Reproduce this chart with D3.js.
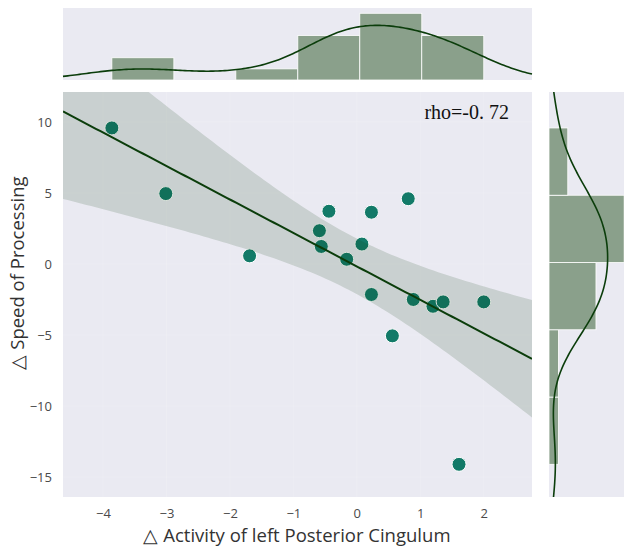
<!DOCTYPE html>
<html>
<head>
<meta charset="utf-8">
<script src="https://cdn.jsdelivr.net/npm/d3@7"></script>
<style>
  body { margin: 0; background: #fff; }
  svg { display: block; }
</style>
</head>
<body>
<svg id="chart" width="624" height="546"></svg>
<script>
// change in activity (x) and change in speed of processing (y), one per subject
var activity = [-3.86, -3.01, -1.69, -0.44, 0.23, 0.81, -0.59, -0.56, -0.16, 0.08,
                0.23, 0.89, 1.20, 1.36, 2.00, 0.56, 1.61];
var speed    = [9.57, 4.95, 0.57, 3.71, 3.64, 4.59, 2.34, 1.23, 0.33, 1.40,
                -2.15, -2.50, -2.98, -2.67, -2.67, -5.06, -14.10];
var xTicks = [-4, -3, -2, -1, 0, 1, 2];
var yTicks = [-15, -10, -5, 0, 5, 10];
var xBins = 6, yBins = 5;
var rhoLabel = "rho=-0. 72";
var xLabel = "\u25B3 Activity of left Posterior Cingulum";
var yLabel = "\u25B3 Speed of Processing";

var svg = d3.select('#chart');
var bg = '#eaeaf2', lineColor = '#0b3d0b', dotColor = '#127a68', barColor = '#8aa08b';

// main panel
var plot = {left: 63, right: 532, top: 92, bottom: 497};
var x = d3.scaleLinear().domain([-4.63, 2.76]).range([plot.left, plot.right]);
var y = d3.scaleLinear().domain([-16.4, 12.1]).range([plot.bottom, plot.top]);

var pts = activity.map(function(d, i) { return {x: d, y: speed[i]}; });
var n = pts.length;

svg.append('defs').append('clipPath').attr('id', 'clipMain')
    .append('rect').attr('x', plot.left).attr('y', plot.top)
    .attr('width', plot.right - plot.left).attr('height', plot.bottom - plot.top);

svg.append('rect').attr('x', plot.left).attr('y', plot.top)
    .attr('width', plot.right - plot.left).attr('height', plot.bottom - plot.top)
    .attr('fill', bg);

// faint grid, as in seaborn darkgrid
var grid = svg.append('g').attr('stroke', '#fff').attr('stroke-opacity', 0.15);
grid.selectAll('.gx').data(xTicks).enter().append('line')
    .attr('x1', function(d) { return x(d); }).attr('x2', function(d) { return x(d); })
    .attr('y1', plot.top).attr('y2', plot.bottom);
grid.selectAll('.gy').data(yTicks).enter().append('line')
    .attr('y1', function(d) { return y(d); }).attr('y2', function(d) { return y(d); })
    .attr('x1', plot.left).attr('x2', plot.right);

var main = svg.append('g').attr('clip-path', 'url(#clipMain)');

main.selectAll('circle').data(pts).enter().append('circle')
    .attr('cx', function(d) { return x(d.x); })
    .attr('cy', function(d) { return y(d.y); })
    .attr('r', 7)
    .attr('fill', dotColor)
    .attr('stroke', '#fff')
    .attr('stroke-width', 1);

// least squares fit with 95% confidence band
var mx = d3.mean(activity), my = d3.mean(speed);
var sxx = d3.sum(activity, function(d) { return (d - mx) * (d - mx); });
var sxy = d3.sum(pts, function(d) { return (d.x - mx) * (d.y - my); });
var slope = sxy / sxx, icept = my - slope * mx;
var sse = d3.sum(pts, function(d) { var r = d.y - (icept + slope * d.x); return r * r; });
var s = Math.sqrt(sse / (n - 2));
var tval = 2.131;
var gridX = d3.range(0, 101).map(function(i) { return x.domain()[0] + i * (x.domain()[1] - x.domain()[0]) / 100; });
var band = gridX.map(function(g) {
    var yh = icept + slope * g;
    var se = s * Math.sqrt(1 / n + (g - mx) * (g - mx) / sxx);
    return {x: g, y: yh, lo: yh - tval * se, hi: yh + tval * se};
});

main.append('path').datum(band)
    .attr('d', d3.area().x(function(d) { return x(d.x); })
        .y0(function(d) { return y(d.lo); }).y1(function(d) { return y(d.hi); }))
    .attr('fill', lineColor).attr('fill-opacity', 0.15);

main.append('path').datum(band)
    .attr('d', d3.line().x(function(d) { return x(d.x); }).y(function(d) { return y(d.y); }))
    .attr('fill', 'none').attr('stroke', lineColor).attr('stroke-width', 2);

// axes
var xAxis = svg.append('g').attr('transform', 'translate(0,' + plot.bottom + ')')
    .call(d3.axisBottom(x).tickValues(xTicks).tickSize(0).tickPadding(12));
var yAxis = svg.append('g').attr('transform', 'translate(' + plot.left + ',0)')
    .call(d3.axisLeft(y).tickValues(yTicks).tickSize(0).tickPadding(11));
[xAxis, yAxis].forEach(function(a) {
    a.select('.domain').remove();
    a.selectAll('text').attr('fill', '#4a4a4a').style('font-family', 'Open Sans').style('font-size', '13px');
});

svg.append('text').text(xLabel)
    .attr('x', 297).attr('y', 542).attr('text-anchor', 'middle')
    .style('font-family', 'Open Sans').style('font-size', '18.5px').attr('fill', '#333');
svg.append('text').text(yLabel)
    .attr('transform', 'translate(24,' + 273 + ') rotate(-90)').attr('text-anchor', 'middle')
    .style('font-family', 'Open Sans').style('font-size', '18.5px').attr('fill', '#333');

svg.append('text').text(rhoLabel)
    .attr('x', 509).attr('y', 119).attr('text-anchor', 'end')
    .style('font-family', 'Liberation Serif').style('font-size', '20px').attr('fill', '#111');

// gaussian kde, scott bandwidth the statsmodels way (robust spread)
function kde(values, grid) {
    var sorted = values.slice().sort(d3.ascending);
    var iqr = d3.quantileSorted(sorted, 0.75) - d3.quantileSorted(sorted, 0.25);
    var spread = Math.min(d3.deviation(values), iqr / 1.349);
    var bw = 1.059 * spread * Math.pow(values.length, -0.2);
    return grid.map(function(g) {
        var v = d3.sum(values, function(d) { var u = (g - d) / bw; return Math.exp(-0.5 * u * u); });
        return [g, v / (values.length * bw * Math.sqrt(2 * Math.PI))];
    });
}

function edges(values, k) {
    var lo = d3.min(values), hi = d3.max(values);
    return d3.range(1, k).map(function(i) { return lo + i * (hi - lo) / k; });
}

// top marginal
var topPanel = {left: plot.left, right: plot.right, top: 8, bottom: 80};
var dTop = d3.scaleLinear().domain([0, 0.39]).range([topPanel.bottom, topPanel.top]);
svg.append('rect').attr('x', topPanel.left).attr('y', topPanel.top)
    .attr('width', topPanel.right - topPanel.left).attr('height', topPanel.bottom - topPanel.top).attr('fill', bg);

var xb = d3.bin().domain(d3.extent(activity)).thresholds(edges(activity, xBins))(activity);
svg.append('g').selectAll('rect').data(xb).enter().append('rect')
    .attr('x', function(d) { return x(d.x0); })
    .attr('width', function(d) { return x(d.x1) - x(d.x0); })
    .attr('y', function(d) { return dTop(d.length / (n * (d.x1 - d.x0))); })
    .attr('height', function(d) { return topPanel.bottom - dTop(d.length / (n * (d.x1 - d.x0))); })
    .attr('fill', barColor).attr('stroke', '#fff').attr('stroke-width', 0.8);

var topGrid = d3.range(0, 201).map(function(i) { return x.domain()[0] + i * (x.domain()[1] - x.domain()[0]) / 200; });
svg.append('path').datum(kde(activity, topGrid))
    .attr('d', d3.line().x(function(d) { return x(d[0]); }).y(function(d) { return dTop(d[1]); }))
    .attr('fill', 'none').attr('stroke', lineColor).attr('stroke-width', 1.6);

// right marginal
var side = {left: 549, right: 640};
var dSide = d3.scaleLinear().domain([0, 0.12]).range([side.left, side.left + 0.12 * 756]);
svg.append('rect').attr('x', side.left).attr('y', plot.top)
    .attr('width', side.right - side.left).attr('height', plot.bottom - plot.top).attr('fill', bg);

var yb = d3.bin().domain(d3.extent(speed)).thresholds(edges(speed, yBins))(speed);
svg.append('g').selectAll('rect').data(yb).enter().append('rect')
    .attr('y', function(d) { return y(d.x1); })
    .attr('height', function(d) { return y(d.x0) - y(d.x1); })
    .attr('x', side.left)
    .attr('width', function(d) { return dSide(d.length / (n * (d.x1 - d.x0))) - side.left; })
    .attr('fill', barColor).attr('stroke', '#fff').attr('stroke-width', 0.8);

var sideGrid = d3.range(0, 201).map(function(i) { return y.domain()[0] + i * (y.domain()[1] - y.domain()[0]) / 200; });
svg.append('path').datum(kde(speed, sideGrid))
    .attr('d', d3.line().x(function(d) { return dSide(d[1]); }).y(function(d) { return y(d[0]); }))
    .attr('fill', 'none').attr('stroke', lineColor).attr('stroke-width', 1.6);
</script>
</body>
</html>
